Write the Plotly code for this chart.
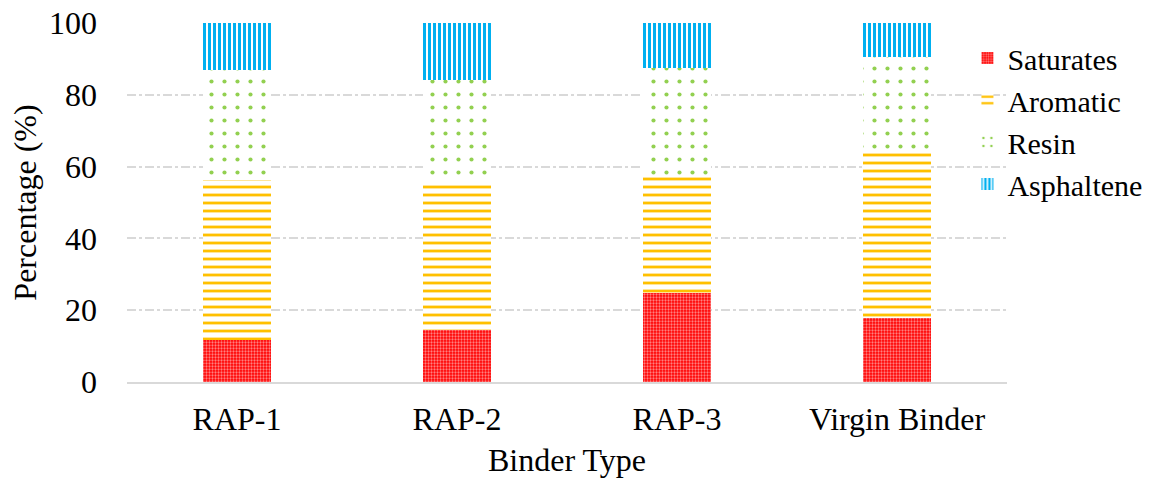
import plotly.graph_objects as go

binders = ["RAP-1", "RAP-2", "RAP-3", "Virgin Binder"]
saturates = [11.7, 14.5, 24.8, 17.8]
aromatic = [44.6, 41.2, 32.9, 46.5]
resin = [30.6, 28.4, 29.8, 26.2]
asphaltene = [13.1, 15.9, 12.5, 9.5]
y_ticks = [0, 20, 40, 60, 80, 100]

FONT = "Liberation Serif, Times New Roman, serif"
FS = 32

fig = go.Figure()
fig.add_trace(go.Bar(
    x=binders, y=saturates, name="Saturates",
    marker=dict(color="#ff0000", line=dict(width=0),
                pattern=dict(shape=".", fgcolor="#ffffff", bgcolor="#ff0000",
                             size=3, solidity=0.45, fillmode="overlay")),
))
fig.add_trace(go.Bar(
    x=binders, y=aromatic, name="Aromatic",
    marker=dict(color="#ffffff", line=dict(width=0),
                pattern=dict(shape="-", fgcolor="#ffc000", bgcolor="#ffffff",
                             size=8, solidity=0.35, fillmode="replace")),
))
fig.add_trace(go.Bar(
    x=binders, y=resin, name="Resin",
    marker=dict(color="#ffffff", line=dict(width=0),
                pattern=dict(shape=".", fgcolor="#92d050", bgcolor="#ffffff",
                             size=13, solidity=0.08, fillmode="replace")),
))
fig.add_trace(go.Bar(
    x=binders, y=asphaltene, name="Asphaltene",
    marker=dict(color="#ffffff", line=dict(width=0),
                pattern=dict(shape="|", fgcolor="#00b0f0", bgcolor="#ffffff",
                             size=5, solidity=0.6, fillmode="replace")),
))

fig.update_layout(
    barmode="stack",
    bargap=0.69,
    width=1160, height=479,
    margin=dict(l=127, r=153, t=23, b=97, autoexpand=False),
    paper_bgcolor="white", plot_bgcolor="white",
    font=dict(family=FONT, size=FS, color="black"),
    legend=dict(
        xref="container", x=0.834, y=0.975, xanchor="left", yanchor="top",
        traceorder="normal", bgcolor="rgba(0,0,0,0)",
        font=dict(family=FONT, size=30), itemwidth=30,
        tracegroupgap=0,
    ),
    xaxis=dict(
        title=dict(text="Binder Type", font=dict(family=FONT, size=FS), standoff=12),
        showline=True, linecolor="#d9d9d9", linewidth=1.5,
        ticks="", tickfont=dict(family=FONT, size=FS),
        ticklabelstandoff=8,
        showgrid=False, automargin=False,
    ),
    yaxis=dict(
        title=dict(text="Percentage (%)", font=dict(family=FONT, size=FS), standoff=2),
        range=[0, 100], tickvals=y_ticks,
        tickfont=dict(family=FONT, size=FS),
        ticklabelstandoff=29,
        showgrid=True, gridcolor="#d9d9d9", griddash="dashdot", gridwidth=1.5,
        zeroline=False, showline=False, ticks="", automargin=False,
    ),
)

fig.write_html("out.html")
